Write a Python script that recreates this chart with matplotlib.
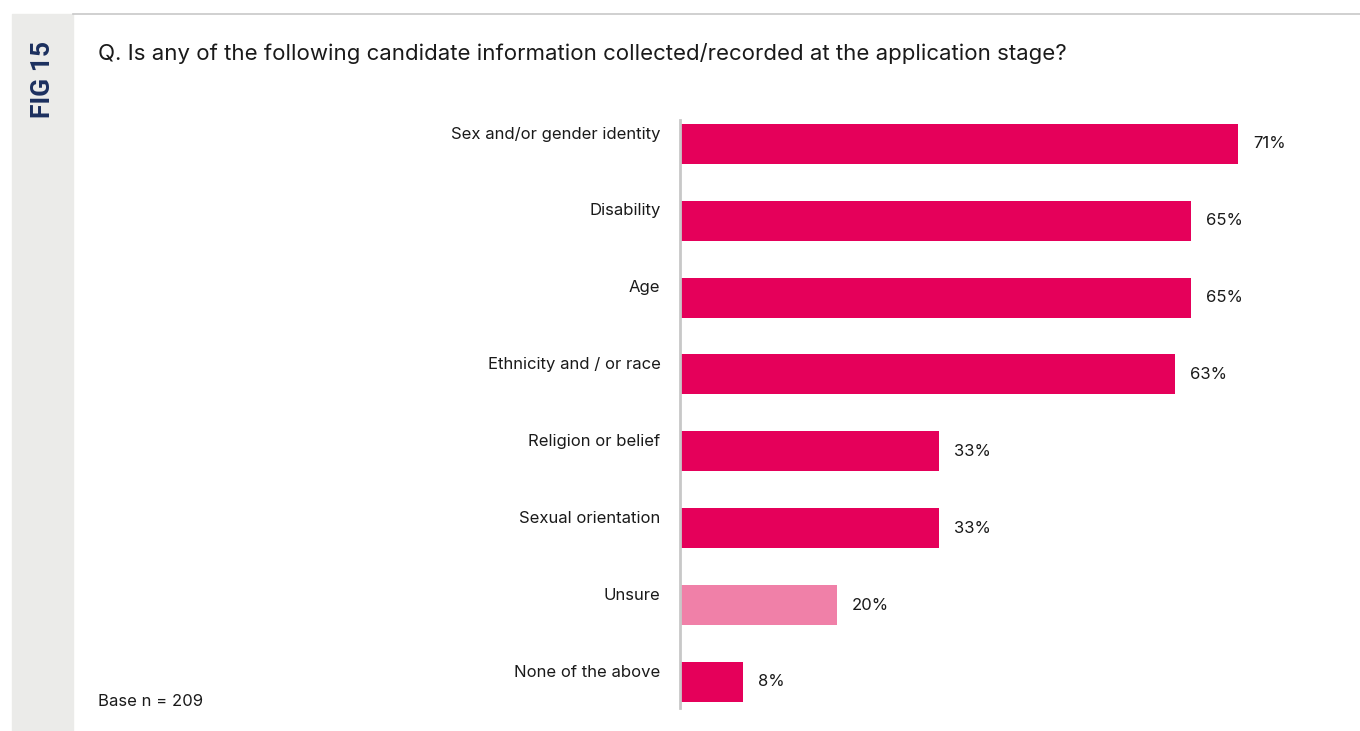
import matplotlib
matplotlib.use("Agg")
import matplotlib.pyplot as plt
from matplotlib.patches import Rectangle
from matplotlib.lines import Line2D

plt.rcParams['font.family'] = ['Inter', 'DejaVu Sans']

categories = ['Sex and/or gender identity', 'Disability', 'Age', 'Ethnicity and / or race',
              'Religion or belief', 'Sexual orientation', 'Unsure', 'None of the above']
values = [71, 65, 65, 63, 33, 33, 20, 8]
labels = ['71%', '65%', '65%', '63%', '33%', '33%', '20%', '8%']

PINK = '#E5005A'
LIGHT = '#F080A8'
colors = [LIGHT if c == 'Unsure' else PINK for c in categories]

W, H = 1360, 731
fig = plt.figure(figsize=(W / 100, H / 100), dpi=100)

# grey side strip and top rule
fig.patches.append(Rectangle((12 / W, 0), 61 / W, (H - 14) / H, transform=fig.transFigure,
                             color='#EBEBE9', zorder=0))
fig.lines.append(Line2D([73 / W, 1], [1 - 14 / H, 1 - 14 / H], transform=fig.transFigure,
                        color='#C8C8C8', lw=1.2))
fig.text(43 / W, 1 - 79 / H, 'FIG 15', rotation=90, ha='center', va='center',
         fontsize=19, fontweight='bold', color='#1B2F5E', family='Roboto')

fig.text(98 / W, 1 - 54 / H, 'Q. Is any of the following candidate information collected/recorded at the application stage?',
         ha='left', va='center', fontsize=16, color='#1a1a1a')
fig.text(98 / W, 1 - 701 / H, 'Base n = 209', ha='left', va='center', fontsize=12, color='#1a1a1a')

ax = fig.add_axes([680 / W, (H - 708) / H, (W - 680) / W, 588 / H])
y = list(range(len(categories)))
ax.barh(y, values, height=0.52, color=colors)
ax.set_xlim(0, (W - 680) / 7.86)
ax.set_ylim(7.34, -0.31)

for yi, v, lab, cat in zip(y, values, labels, categories):
    ax.text(v + 1.9, yi, lab, ha='left', va='center', fontsize=12, color='#1a1a1a')
    ax.annotate(cat, xy=(0, yi), xytext=(-14, 7), textcoords='offset points',
                ha='right', va='center', fontsize=12, color='#1a1a1a')

for s in ['top', 'right', 'bottom']:
    ax.spines[s].set_visible(False)
ax.spines['left'].set_color('#C8C8C8')
ax.spines['left'].set_linewidth(2)
ax.set_xticks([])
ax.set_yticks([])

fig.savefig('out.png', dpi=100)
